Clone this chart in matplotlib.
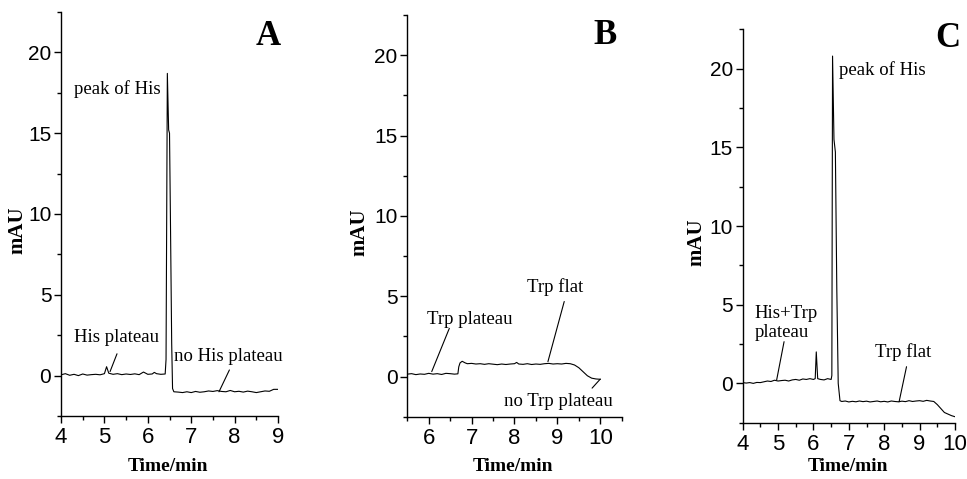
import matplotlib
matplotlib.use("Agg")
import matplotlib.pyplot as plt
from matplotlib.ticker import MultipleLocator

# ---- data (time in min, absorbance in mAU) ----
t_a = [4.0, 4.1, 4.2, 4.3, 4.4, 4.5, 4.6, 4.7, 4.8, 4.9, 5.0, 5.05, 5.1, 5.2, 5.3,
       5.4, 5.5, 5.6, 5.7, 5.8, 5.9, 6.0, 6.1, 6.15, 6.2, 6.3, 6.4, 6.42, 6.45, 6.48,
       6.5, 6.52, 6.55, 6.57, 6.6, 6.7, 6.8, 6.9, 7.0, 7.1, 7.2, 7.3, 7.4, 7.5, 7.6,
       7.7, 7.8, 7.9, 8.0, 8.1, 8.2, 8.3, 8.4, 8.5, 8.6, 8.7, 8.8, 8.9, 9.0]
y_a = [0.05, 0.12, 0.02, 0.08, 0.0, 0.1, 0.03, 0.06, 0.08, 0.05, 0.12, 0.55, 0.15, 0.08, 0.12,
       0.06, 0.1, 0.07, 0.11, 0.06, 0.22, 0.08, 0.1, 0.2, 0.12, 0.08, 0.1, 1.0, 18.7, 15.2,
       15.0, 10.0, 2.0, -0.8, -1.0, -1.02, -1.05, -1.0, -1.05, -0.98, -1.03, -1.0, -0.95, -0.98, -0.93,
       -0.98, -1.0, -0.92, -1.0, -0.97, -1.02, -0.96, -1.0, -1.05, -1.0, -0.95, -0.97, -0.85, -0.85]

t_b = [5.5, 5.6, 5.7, 5.8, 5.9, 6.0, 6.1, 6.2, 6.3, 6.4, 6.5, 6.6, 6.68, 6.7, 6.73,
       6.78, 6.85, 6.9, 7.0, 7.1, 7.2, 7.3, 7.4, 7.5, 7.6, 7.7, 7.8, 7.9, 8.0, 8.05,
       8.1, 8.2, 8.3, 8.4, 8.5, 8.6, 8.7, 8.8, 8.9, 9.0, 9.1, 9.2, 9.3, 9.4, 9.5,
       9.6, 9.7, 9.8, 9.9, 10.0]
y_b = [0.15, 0.18, 0.12, 0.16, 0.14, 0.2, 0.15, 0.18, 0.13, 0.2, 0.18, 0.15, 0.17, 0.6, 0.85,
       0.95, 0.85, 0.8, 0.82, 0.78, 0.8, 0.76, 0.8, 0.77, 0.74, 0.78, 0.75, 0.78, 0.8, 0.88,
       0.78, 0.76, 0.8, 0.75, 0.78, 0.76, 0.8, 0.82, 0.78, 0.8, 0.78, 0.82, 0.8, 0.72, 0.55,
       0.3, 0.05, -0.1, -0.15, -0.17]

t_c = [4.0, 4.1, 4.2, 4.3, 4.4, 4.5, 4.6, 4.7, 4.8, 4.9, 5.0, 5.1, 5.2, 5.3, 5.4,
       5.5, 5.6, 5.7, 5.8, 5.9, 6.0, 6.05, 6.08, 6.12, 6.2, 6.3, 6.4, 6.5, 6.52, 6.54,
       6.58, 6.62, 6.66, 6.7, 6.75, 6.8, 6.9, 7.0, 7.1, 7.2, 7.3, 7.4, 7.5, 7.6, 7.7,
       7.8, 7.9, 8.0, 8.1, 8.2, 8.3, 8.4, 8.5, 8.6, 8.7, 8.8, 8.9, 9.0, 9.1, 9.2,
       9.3, 9.4, 9.5, 9.6, 9.7, 9.8, 9.9, 10.0]
y_c = [0.05, 0.02, 0.05, 0.0, 0.06, 0.05, 0.1, 0.15, 0.12, 0.2, 0.15, 0.18, 0.2, 0.15, 0.22,
       0.25, 0.2, 0.28, 0.25, 0.3, 0.25, 0.3, 2.0, 0.3, 0.25, 0.22, 0.3, 0.25, 0.5, 20.8,
       15.5, 14.7, 6.0, 0.0, -1.1, -1.15, -1.12, -1.18, -1.14, -1.17, -1.12, -1.16, -1.13, -1.18, -1.15,
       -1.12, -1.17, -1.14, -1.18, -1.12, -1.15, -1.17, -1.13, -1.16, -1.1, -1.15, -1.12, -1.1, -1.14, -1.08,
       -1.12, -1.15, -1.35, -1.6, -1.85, -1.95, -2.05, -2.12]

xlims = [(4, 9), (5.5, 10.5), (4, 10)]
ylim = (-2.5, 22.5)
panel_letters = ['A', 'B', 'C']

serif = 'Liberation Serif'
sans = 'Liberation Sans'

fig = plt.figure(figsize=(9.67, 4.79), dpi=100)
ax_a = fig.add_axes([0.0631, 0.1315, 0.2244, 0.8435])
ax_b = fig.add_axes([0.4212, 0.1300, 0.2217, 0.8387])
ax_c = fig.add_axes([0.7680, 0.1175, 0.2196, 0.8213])
axes = [ax_a, ax_b, ax_c]
ylab_x = [-0.155, -0.178, -0.172]
xlab_y = [-0.104, -0.103, -0.090]

for ax, t, y, xl, yx, xy in zip(axes, [t_a, t_b, t_c], [y_a, y_b, y_c], xlims, ylab_x, xlab_y):
    ax.plot(t, y, color='black', lw=0.8)
    ax.set_xlim(*xl)
    ax.set_ylim(*ylim)
    ax.spines['top'].set_visible(False)
    ax.spines['right'].set_visible(False)
    for s in ['left', 'bottom']:
        ax.spines[s].set_linewidth(1.0)
    ax.xaxis.set_major_locator(MultipleLocator(1))
    ax.xaxis.set_minor_locator(MultipleLocator(0.5))
    ax.yaxis.set_major_locator(MultipleLocator(5))
    ax.yaxis.set_minor_locator(MultipleLocator(2.5))
    ax.tick_params(which='major', length=5, width=1.0, direction='out')
    ax.tick_params(which='minor', length=3, width=1.0, direction='out')
    ax.tick_params(axis='x', which='major', labelsize=16, pad=3)
    ax.tick_params(axis='y', which='major', labelsize=15, pad=2)
    for lab in ax.get_xticklabels() + ax.get_yticklabels():
        lab.set_fontfamily(sans)
    ax.set_ylabel('mAU', fontsize=15, fontweight='bold', fontfamily=serif)
    ax.set_xlabel('Time/min', fontsize=14, fontweight='bold', fontfamily=serif)
    ax.yaxis.set_label_coords(yx, 0.46)
    ax.xaxis.set_label_coords(0.495, xy)

txt = dict(fontsize=13.5, fontfamily=serif)
lead = dict(arrowstyle='-', lw=0.8, color='black', shrinkA=0, shrinkB=0)
big = dict(fontsize=25, fontweight='bold', fontfamily=serif, ha='center', va='center')

# panel A
ax_a.text(8.77, 21.0, panel_letters[0], **big)
ax_a.text(4.3, 17.7, 'peak of His', ha='left', va='center', **txt)
ax_a.text(4.3, 2.35, 'His plateau', ha='left', va='center', **txt)
ax_a.annotate('', xy=(5.13, 0.25), xytext=(5.29, 1.35), arrowprops=lead)
ax_a.text(6.6, 1.2, 'no His plateau', ha='left', va='center', **txt)
ax_a.annotate('', xy=(7.64, -1.0), xytext=(7.88, 0.35), arrowprops=lead)

# panel B
ax_b.text(10.12, 21.2, panel_letters[1], **big)
ax_b.text(5.97, 3.53, 'Trp plateau', ha='left', va='center', **txt)
ax_b.annotate('', xy=(6.07, 0.31), xytext=(6.48, 3.0), arrowprops=lead)
ax_b.text(8.94, 5.6, 'Trp flat', ha='center', va='center', **txt)
ax_b.annotate('', xy=(8.78, 0.93), xytext=(9.16, 4.67), arrowprops=lead)
ax_b.text(9.03, -1.56, 'no Trp plateau', ha='center', va='center', **txt)
ax_b.annotate('', xy=(10.0, -0.16), xytext=(9.81, -0.72), arrowprops=lead)

# panel C
ax_c.text(9.8, 21.9, panel_letters[2], **big)
ax_c.text(6.72, 19.9, 'peak of His', ha='left', va='center', **txt)
ax_c.text(4.33, 3.81, 'His+Trp\nplateau', ha='left', va='center', linespacing=1.15, **txt)
ax_c.annotate('', xy=(4.96, 0.21), xytext=(5.17, 2.65), arrowprops=lead)
ax_c.text(7.74, 2.0, 'Trp flat', ha='left', va='center', **txt)
ax_c.annotate('', xy=(8.42, -1.17), xytext=(8.63, 1.06), arrowprops=lead)

fig.savefig('out.png', dpi=100)
